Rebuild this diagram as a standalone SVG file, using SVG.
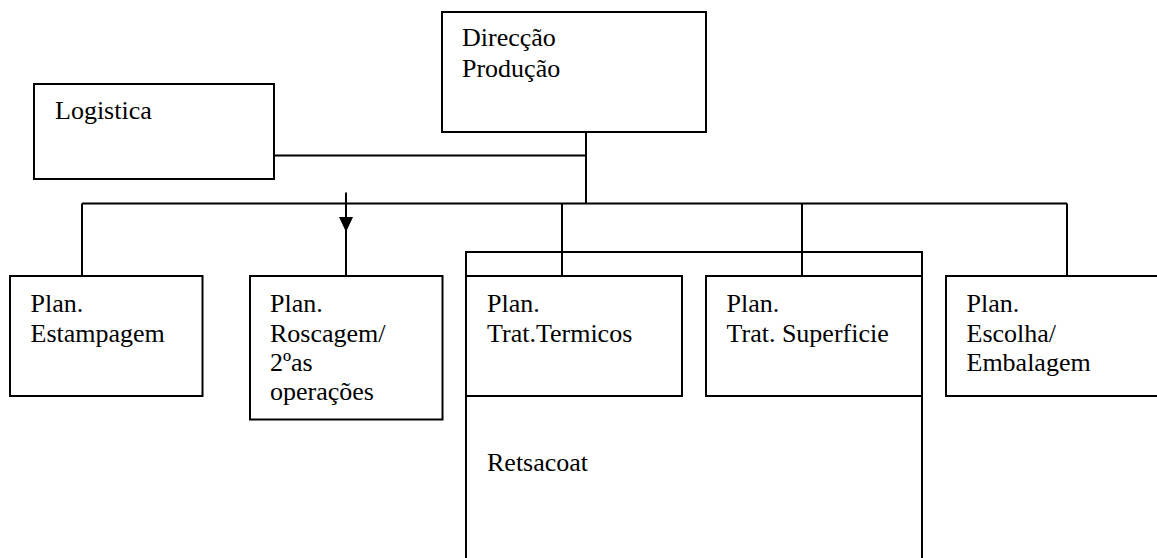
<svg xmlns="http://www.w3.org/2000/svg" width="1157" height="558" viewBox="0 0 1157 558">
<style>
.box{fill:#fff;stroke:#000;stroke-width:2}
.outer{fill:none;stroke:#000;stroke-width:2}
.ln{fill:none;stroke:#000;stroke-width:2}
.t{font-family:'Liberation Serif','DejaVu Serif',serif;font-size:26px;fill:#000}
</style>
<rect width="1157" height="558" fill="#fff"/>
<g font-family="Liberation Serif, DejaVu Serif, serif" font-size="26">
<g id="retsacoat">
<rect class="outer" x="466" y="252" width="456" height="330"/>
<text class="t" x="487" y="471">Retsacoat</text>
</g>
<g id="connectors">
<path class="ln" d="M274,155.5 H586 M586,132 V203.5 M82,203.5 H1067 M82,203.5 V276 M562,203.5 V276 M802,203.5 V276 M1067,203.5 V276"/>
<line class="ln" x1="346" y1="192.5" x2="346" y2="276"/>
<path d="M339,217 L353,217 L346,232 Z" fill="#000"/>
</g>
<g id="direccao">
<rect class="box" x="442" y="12" width="264" height="120"/>
<text class="t" x="462" y="46">Direcção</text>
<text class="t" x="462" y="77">Produção</text>
</g>
<g id="logistica">
<rect class="box" x="34" y="84" width="240" height="95"/>
<text class="t" x="55" y="119">Logistica</text>
</g>
<g id="estampagem">
<rect class="box" x="10" y="276" width="192.5" height="120"/>
<text class="t" x="30.5" y="311.5">Plan.</text>
<text class="t" x="30.5" y="341.5">Estampagem</text>
</g>
<g id="roscagem">
<rect class="box" x="250" y="276" width="192.5" height="143.5"/>
<text class="t" x="270" y="311.5">Plan.</text>
<text class="t" x="270" y="341.5">Roscagem/</text>
<text class="t" x="270" y="371">2ºas</text>
<text class="t" x="270" y="400">operações</text>
</g>
<g id="termicos">
<rect class="box" x="466" y="276" width="216" height="120"/>
<text class="t" x="487" y="311.5">Plan.</text>
<text class="t" x="487" y="341.5">Trat.Termicos</text>
</g>
<g id="superficie">
<rect class="box" x="706" y="276" width="216" height="120"/>
<text class="t" x="726.5" y="311.5">Plan.</text>
<text class="t" x="726.5" y="341.5">Trat. Superficie</text>
</g>
<g id="escolha">
<rect class="box" x="946" y="276" width="220" height="120"/>
<text class="t" x="966.5" y="311.5">Plan.</text>
<text class="t" x="966.5" y="341.5">Escolha/</text>
<text class="t" x="966.5" y="371">Embalagem</text>
</g>
</g>
</svg>
